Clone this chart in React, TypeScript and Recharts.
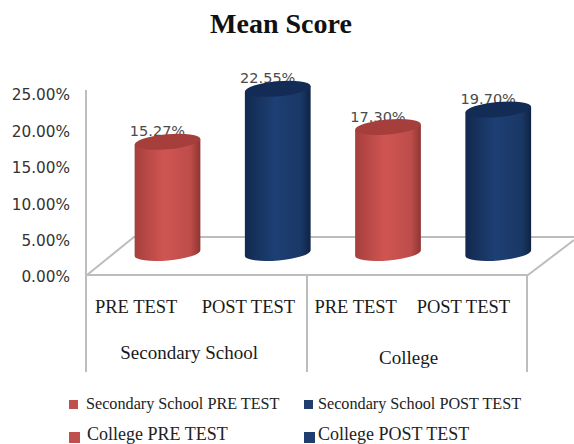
import React from 'react';
import { BarChart, Bar, XAxis, YAxis } from 'recharts';

const groups = ['Secondary School', 'College'];
const tests = ['PRE TEST', 'POST TEST', 'PRE TEST', 'POST TEST'];
const categories = [
  'Secondary School PRE TEST',
  'Secondary School POST TEST',
  'College PRE TEST',
  'College POST TEST',
];
const values = [15.27, 22.55, 17.3, 19.7];
const yTicks = [0, 5, 10, 15, 20, 25];

const chartData = categories.map((name, i) => ({ name, value: values[i] }));

const RED = '#c0504d';
const BLUE = '#1f3d6d';
const SERIF = '"Liberation Serif", serif';
const SANS = '"DejaVu Sans", sans-serif';
const GRID = '#bdbdbd';

// the 3D look pushes the columns back into the floor
const DEPTH_X = 26.5;
const DEPTH_Y = -22;
const TILT = -5;

const Cylinder = (props: any) => {
  const { x, y, width, height, index, value } = props;
  const isRed = index % 2 === 0;
  const cx = x + width / 2 + DEPTH_X;
  const rx = width / 2;
  const ry = 7.5;
  const top = y + DEPTH_Y;
  const bottom = y + height + DEPTH_Y;
  const dx = rx * Math.cos((TILT * Math.PI) / 180);
  const dy = rx * Math.sin((TILT * Math.PI) / 180);
  const body = `M${cx - dx},${top - dy} L${cx - dx},${bottom - dy} A${rx},${ry} ${TILT} 0 0 ${cx + dx},${bottom + dy} L${cx + dx},${top + dy} Z`;
  return (
    <g>
      <text x={cx - 10} y={top - 5.5} textAnchor="middle" fontFamily={SANS} fontSize={14.5} fill="#4a4a4a">
        {value.toFixed(2)}%
      </text>
      <path d={body} fill={`url(#${isRed ? 'redBody' : 'blueBody'})`} />
      <ellipse
        cx={cx}
        cy={top}
        rx={rx}
        ry={ry}
        transform={`rotate(${TILT} ${cx} ${top})`}
        fill={isRed ? '#a63f3c' : '#132c55'}
      />
    </g>
  );
};

const labelShifts = [-5, -3, -6, -8.5];

const CategoryTick = (props: any) => {
  const { x, y, index } = props;
  return (
    <g>
      <text x={x + labelShifts[index]} y={y + 30} textAnchor="middle" fontFamily={SERIF} fontSize={18.5} fill="#1a1a1a">
        {tests[index]}
      </text>
      {index % 2 === 0 && (
        <text
          x={x + (index === 0 ? 48 : 47)}
          y={y + (index === 0 ? 76 : 81)}
          textAnchor="middle"
          fontFamily={SERIF}
          fontSize={19}
          fill="#1a1a1a"
        >
          {groups[index / 2]}
        </text>
      )}
    </g>
  );
};

const legendRows = [
  { x: 69, text: 86, y: 409, size: 16.2, box: 9 },
  { x: 304, text: 318, y: 409, size: 16.2, box: 9 },
  { x: 69, text: 87, y: 440, size: 18, box: 11 },
  { x: 304, text: 318, y: 440, size: 18, box: 11 },
];

export default function App() {
  return (
    <div style={{ position: 'absolute', left: 0, top: 0 }}>
      <BarChart
        width={574}
        height={444}
        data={chartData}
        margin={{ top: 93, right: 47, bottom: 69, left: 0 }}
        barSize={66}
      >
        <defs>
          <linearGradient id="redBody" x1="0" y1="0" x2="1" y2="0">
            <stop offset="0%" stopColor="#a63f3c" />
            <stop offset="45%" stopColor="#d05552" />
            <stop offset="85%" stopColor="#bd4d4a" />
            <stop offset="100%" stopColor="#8f3431" />
          </linearGradient>
          <linearGradient id="blueBody" x1="0" y1="0" x2="1" y2="0">
            <stop offset="0%" stopColor="#12294e" />
            <stop offset="45%" stopColor="#1d3f74" />
            <stop offset="85%" stopColor="#1a3866" />
            <stop offset="100%" stopColor="#0f2344" />
          </linearGradient>
        </defs>

        <text x={281} y={33} textAnchor="middle" fontFamily={SERIF} fontWeight="bold" fontSize={28} fill="#111">
          Mean Score
        </text>

        {/* floor and wall lines */}
        <g stroke={GRID} strokeWidth={2} fill="none">
          <path d="M87,275 L134,237 L574,237" />
          <path d="M87,275 L528,275 L574,240" />
          <path d="M86,90 L86,372" />
          <path d="M307,275 L307,372" />
          <path d="M527,275 L527,372" />
        </g>

        <XAxis
          dataKey="name"
          height={100}
          axisLine={false}
          tickLine={false}
          interval={0}
          tick={<CategoryTick />}
        />
        <YAxis
          width={86}
          domain={[0, 25]}
          ticks={yTicks}
          axisLine={false}
          tickLine={false}
          tickSize={0}
          tickMargin={16}
          tickFormatter={(v: number) => `${v.toFixed(2)}%`}
          tick={{ fontFamily: SANS, fontSize: 15.3, fill: '#333', dy: 2 }}
        />
        <Bar dataKey="value" isAnimationActive={false} shape={<Cylinder />} />

        <g>
          {categories.map((name, i) => (
            <g key={name}>
              <rect
                x={legendRows[i].x}
                y={legendRows[i].y - legendRows[i].box + (i > 1 ? 3 : 0)}
                width={legendRows[i].box}
                height={legendRows[i].box}
                fill={i % 2 === 0 ? RED : BLUE}
              />
              <text
                x={legendRows[i].text}
                y={legendRows[i].y}
                fontFamily={SERIF}
                fontSize={legendRows[i].size}
                fill="#222"
              >
                {name}
              </text>
            </g>
          ))}
        </g>
      </BarChart>
    </div>
  );
}
